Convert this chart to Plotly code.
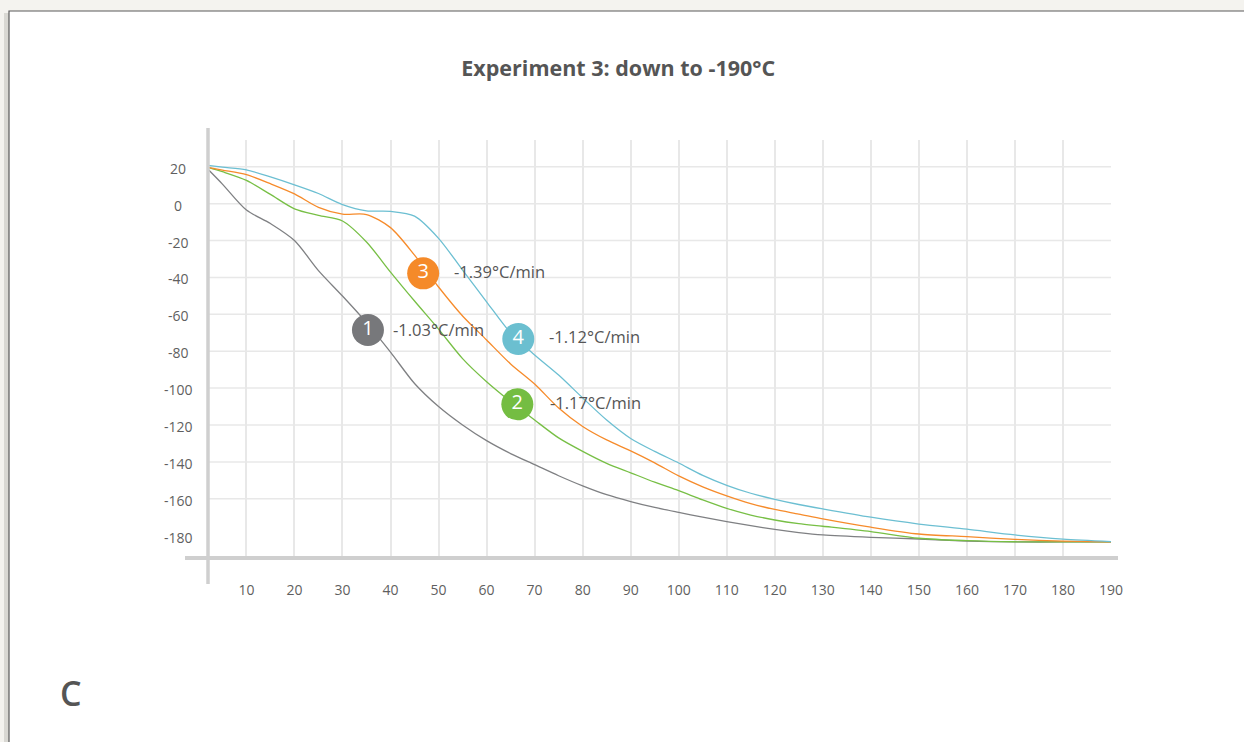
import plotly.graph_objects as go

# ---------------- data (time in minutes, temperature in °C) ----------------
TIME = [2, 5, 10, 15, 20, 25, 30, 35, 40, 45, 50, 55, 60, 65, 70, 75, 80, 85, 90, 95,
        100, 105, 110, 115, 120, 125, 130, 140, 150, 160, 170, 180, 190]

PROBE_1 = [18.6, 10.6, -3.5, -10.8, -20.0, -36.3, -50.1, -64.5, -80.5, -97.5, -110.0,
           -120.0, -128.5, -135.5, -141.5, -147.5, -153.0, -157.8, -161.5, -164.7,
           -167.4, -170.0, -172.4, -174.6, -176.6, -178.3, -179.6, -180.9, -181.8,
           -182.9, -183.4, -183.4, -183.4]
PROBE_2 = [19.7, 17.3, 12.6, 5.0, -2.8, -6.4, -9.4, -20.8, -37.1, -52.8, -68.0,
           -84.0, -96.5, -107.3, -117.3, -127.0, -134.3, -140.8, -145.9, -151.0,
           -155.6, -160.6, -165.2, -168.8, -171.5, -173.5, -174.9, -177.8, -181.4,
           -182.7, -183.3, -183.4, -183.4]
PROBE_3 = [19.7, 18.2, 15.7, 10.8, 5.3, -2.0, -5.7, -5.9, -13.0, -27.9, -45.2,
           -60.9, -73.9, -86.9, -97.8, -110.8, -120.8, -128.1, -134.0, -140.5,
           -147.6, -153.5, -158.4, -162.6, -165.8, -168.3, -170.9, -175.4, -179.1,
           -180.5, -182.0, -182.9, -183.4]
PROBE_4 = [20.8, 19.8, 18.3, 14.5, 10.2, 5.5, -0.5, -3.9, -4.2, -6.8, -18.8,
           -36.0, -53.2, -70.1, -82.0, -92.9, -105.3, -117.3, -127.3, -134.3,
           -140.6, -147.3, -152.7, -157.0, -160.3, -163.1, -165.5, -170.0, -173.7,
           -176.5, -179.6, -181.9, -183.2]

SERIES = [PROBE_1, PROBE_2, PROBE_3, PROBE_4]
LINE_COLORS = ["#7f8083", "#77bf45", "#f68b2b", "#6cbfd2"]

BADGE_NUM = ["1", "2", "3", "4"]
BADGE_X = [35.3, 66.4, 46.8, 66.6]
BADGE_Y = [-68.5, -108.8, -37.8, -73.4]
BADGE_COLORS = ["#77787b", "#74bd42", "#f58a29", "#6bbfd0"]

RATE_TEXT = ["-1.03°C/min", "-1.17°C/min", "-1.39°C/min", "-1.12°C/min"]
RATE_X = [40.0, 72.8, 52.9, 72.5]
RATE_Y = [-68.1, -107.9, -36.9, -71.8]

X_TICKS = [10, 20, 30, 40, 50, 60, 70, 80, 90, 100, 110, 120, 130, 140, 150, 160, 170, 180, 190]
Y_TICKS = [20, 0, -20, -40, -60, -80, -100, -120, -140, -160, -180]
Y_GRID = [20, 0, -20, -40, -60, -80, -100, -120, -140, -160]

TITLE = "Experiment 3: down to -190°C"
PANEL = "C"

# ---------------- layout geometry (pixels) ----------------
W, H = 1244, 742
L, R, T, B = 208, 1111, 140, 558
PW, PH = R - L, B - T
X_RANGE = [2, 190]
Y_RANGE = [-192.1, 34.5]


def xp(px):
    return (px - L) / PW


def yp(py):
    return (B - py) / PH


fig = go.Figure()

for vals, col in zip(SERIES, LINE_COLORS):
    fig.add_trace(go.Scatter(
        x=TIME, y=vals, mode="lines",
        line=dict(color=col, width=1.3, shape="spline", smoothing=0.8),
        hoverinfo="skip", showlegend=False))

fig.add_trace(go.Scatter(
    x=BADGE_X, y=BADGE_Y, mode="markers+text", text=BADGE_NUM,
    textposition="middle center",
    textfont=dict(family="Open Sans", size=20, color="white"),
    marker=dict(size=32, color=BADGE_COLORS, line=dict(width=0)),
    cliponaxis=False, hoverinfo="skip", showlegend=False))

shapes = [
    # card shadow and card
    dict(type="rect", xref="paper", yref="paper", x0=xp(4), x1=xp(1260),
         y0=yp(760), y1=yp(13), fillcolor="#d9d8d3", line=dict(width=0), layer="below"),
    dict(type="rect", xref="paper", yref="paper", x0=xp(9), x1=xp(1260),
         y0=yp(760), y1=yp(11), fillcolor="white", line=dict(color="#5a5a5a", width=1.2),
         layer="below"),
]
for gy in Y_GRID:
    shapes.append(dict(type="line", xref="x", yref="y", x0=X_RANGE[0], x1=X_RANGE[1],
                       y0=gy, y1=gy, line=dict(color="#e8e8e8", width=1.5), layer="below"))
# stylised axis lines
shapes.append(dict(type="line", xref="paper", yref="paper", x0=0, x1=0,
                   y0=yp(584), y1=yp(128), line=dict(color="#cfcfcf", width=3.5), layer="above"))
shapes.append(dict(type="line", xref="paper", yref="paper", x0=xp(185), x1=xp(1118),
                   y0=0, y1=0, line=dict(color="#cfcfcf", width=4), layer="above"))

annotations = []
for t, x, y in zip(RATE_TEXT, RATE_X, RATE_Y):
    annotations.append(dict(x=x, y=y, xref="x", yref="y", text=t, showarrow=False,
                            xanchor="left", yanchor="middle",
                            font=dict(family="Open Sans", size=16.5, color="#555555")))
for v in Y_TICKS:
    annotations.append(dict(x=xp(178), y=v, xref="paper", yref="y", text=str(v),
                            showarrow=False, xanchor="center", yanchor="middle", yshift=-1.5,
                            font=dict(family="Open Sans", size=14, color="#5f5f5f")))
annotations.append(dict(x=xp(71), y=yp(693), xref="paper", yref="paper", text=PANEL,
                        showarrow=False, xanchor="center", yanchor="middle",
                        font=dict(family="Open Sans", size=34, color="#555555", weight=600)))

fig.update_layout(
    width=W, height=H,
    margin=dict(l=L, r=W - R, t=T, b=H - B, pad=0),
    paper_bgcolor="#f4f3ef", plot_bgcolor="white",
    title=dict(text=TITLE, x=0.497, xref="container", xanchor="center",
               y=1 - 68 / H, yref="container", yanchor="middle",
               font=dict(family="Open Sans", size=21.5, color="#555555", weight="bold")),
    shapes=shapes, annotations=annotations,
    xaxis=dict(range=X_RANGE, tickvals=X_TICKS, ticktext=[str(v) for v in X_TICKS],
               showgrid=True, gridcolor="#e8e8e8", gridwidth=1.5,
               zeroline=False, showline=False, ticks="", ticklabelstandoff=22,
               tickfont=dict(family="Open Sans", size=14, color="#5f5f5f"),
               fixedrange=True),
    yaxis=dict(range=Y_RANGE, showgrid=False, zeroline=False, showline=False,
               showticklabels=False, ticks="", fixedrange=True),
    showlegend=False,
)

fig.write_html(
    "out.html",
    config={"displayModeBar": False},
    post_script="document.body.style.margin='0';document.body.style.background='#f4f3ef';"
                "document.body.style.overflow='hidden';",
)
